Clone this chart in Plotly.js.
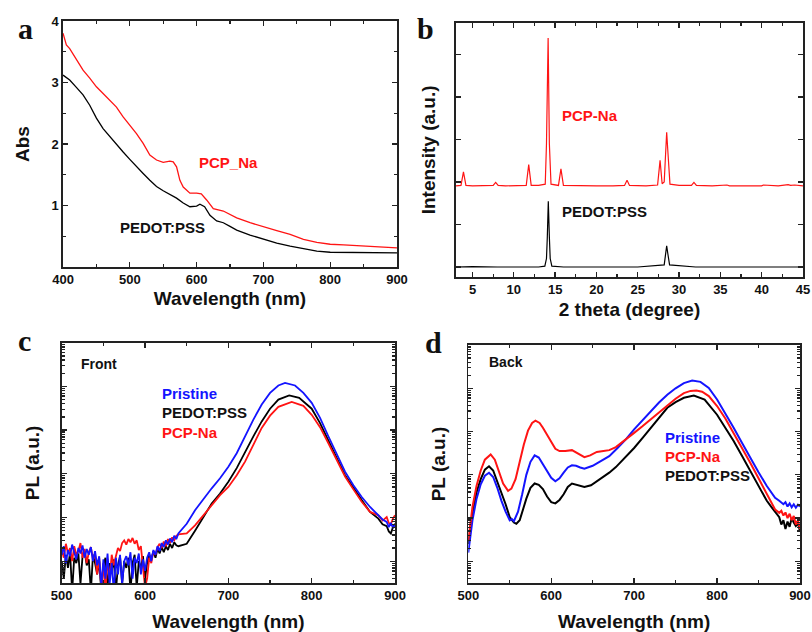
<!DOCTYPE html>
<html><head><meta charset="utf-8">
<script src="https://cdn.plot.ly/plotly-3.0.1.min.js"></script>
<style>html,body{margin:0;padding:0;background:#fff}#chart{width:812px;height:632px}</style>
</head><body><div id="chart"></div>
<script>
// ---- Panel a: absorbance ----
const absWlRed = [400,405,410,420,430,440,450,460,470,480,490,500,510,520,530,540,550,560,565,570,575,580,590,600,607,615,625,640,650,660,680,700,720,740,760,780,800,820,840,860,880,900];
const absRed   = [3.8,3.61,3.55,3.37,3.2,3.07,2.93,2.82,2.71,2.6,2.44,2.31,2.17,2.01,1.82,1.74,1.7,1.72,1.71,1.63,1.41,1.3,1.2,1.2,1.19,1.09,0.95,0.91,0.85,0.8,0.72,0.65,0.59,0.53,0.45,0.4,0.37,0.36,0.35,0.34,0.33,0.31];
const absWlBlack = [400,410,420,430,440,450,460,470,480,490,500,510,520,530,540,550,560,570,580,590,600,605,612,620,630,640,650,660,680,700,720,740,760,780,800,820,850,900];
const absBlack   = [3.12,3.04,2.92,2.8,2.63,2.42,2.25,2.12,2.0,1.87,1.75,1.63,1.52,1.41,1.31,1.24,1.18,1.12,1.04,0.98,0.99,1.02,0.98,0.84,0.75,0.72,0.66,0.6,0.52,0.45,0.39,0.34,0.3,0.26,0.24,0.24,0.23,0.23];

// ---- Panel b: XRD ----
const xrdAngRed = [3,3.6,3.9,4.2,5,6,7.5,7.8,8.1,9,10,11.5,11.8,12.1,13,13.8,13.95,14.15,14.3,14.5,15.4,15.7,16.0,18,20,22,23.4,23.7,24.0,26,27.4,27.7,27.95,28.2,28.35,28.5,28.65,28.9,30,31.5,31.8,32.1,34,35.8,36.1,38,40,40.2,42,43.2,43.5,44,45];
const xrdRed    = [1.91,1.92,2.24,1.92,1.91,1.91,1.92,1.99,1.92,1.91,1.91,1.92,2.41,1.92,1.92,1.95,2.9,5.39,2.9,1.95,1.92,2.31,1.92,1.91,1.91,1.91,1.92,2.04,1.92,1.91,1.93,2.51,1.96,2.0,2.7,3.17,2.7,1.95,1.92,1.92,1.99,1.92,1.91,1.93,1.91,1.91,1.91,1.93,1.91,1.94,1.92,1.93,1.91];
const xrdAngBlack = [3,5,8,10,13,13.75,13.95,14.05,14.17,14.3,14.4,14.6,16,20,25,28.2,28.35,28.5,28.65,28.85,32,40,45];
const xrdBlack    = [0,0.01,0,0,0,0.02,0.2,0.7,1.55,0.7,0.2,0.02,0,0,0,0.05,0.3,0.5,0.3,0.05,0,0,0];

// ---- Panel c: PL front ----
const frontNoiseWl = [500,502.5,505,507.5,510,512.5,515,517.5,520,522.5,525,527.5,530,532.5,535,537.5,540,542.5,545,547.5,550,552.5,555,557.5,560,562.5,565,567.5,570,572.5,575,577.5,580,582.5,585,587.5,590,592.5,595,597.5,600,602.5,605,607.5,610,612.5,615,617.5,620,622.5,625,627.5,630,632.5,635,637.5,640];
const frontBlueNoise  = [14,22,9,18,13,24,16,11,20,15,23,12,19,14,21,10,17,8,13,2.5,11,4,15,3,9,2,12,5,14,3,10,13,8,16,4,12,9,15,5,11,6,12,16,10,18,14,22,17,26,21,30,24,33,27,38,32,43];
const frontRedNoise   = [18,12,25,15,20,10,22,14,17,26,12,19,9,16,21,11,15,5,12,2.5,9,2,11,4,14,8,13,20,17,26,30,24,32,27,34,25,30,18,22,6,2.5,4,12,9,17,14,21,25,20,28,22,32,26,35,30,38,41];
const frontBlackNoise = [10,4,14,7,16,2,12,9,15,3,13,17,8,11,2,14,9,5,10,2,8,12,2.5,9,6,11,2,8,13,3,10,7,12,2,9,14,2.5,10,7,13,4,9,14,11,17,12,19,15,21,16,22,18,25,20,27,23,22];
const frontBlueWl  = [650,660,670,680,690,700,710,720,730,740,750,760,768,780,790,800,810,820,830,840,850,860,870,880,885,890,892.5,895,897.5,900];
const frontBlue    = [72,147,270,465,790,1450,2960,7200,17400,38600,71000,105000,120000,105000,71000,42000,19000,7200,2960,1120,550,295,174,112,90,79,60,75,58,69];
const frontBlackWl = [650,660,670,680,690,700,710,720,730,740,750,760,773,785,800,810,820,830,840,850,860,870,880,885,890,892.5,895,897.5,900];
const frontBlack   = [25,50,103,209,355,660,1350,3240,7200,15800,30900,50000,62000,55000,30900,14500,6000,2300,930,470,250,134,94,70,63,48,43,60,72];
const frontRedWl   = [650,660,670,680,690,700,710,720,730,740,750,760,776,790,800,810,820,830,840,850,860,870,880,885,890,892.5,895,897.5,900];
const frontRed     = [43,66,112,190,324,500,930,1900,4600,11200,21400,34000,44000,36000,22400,11700,5000,2100,870,440,229,134,112,85,102,75,70,95,112];

// ---- Panel d: PL back ----
const backBlueWl = [500,505,510,515,520,525,530,535,540,545,550,552.5,555,560,565,570,575,580,585,590,595,600,605,610,615,620,625,630,635,640,650,660,670,680,690,700,710,720,730,740,750,760,770,780,790,800,810,820,830,840,850,860,865,870,875,880,882.5,885,887.5,890,892.5,895,897.5,900];
const backBlue   = [16,89,282,603,955,1120,891,501,251,141,89,95,85,141,355,1000,2000,2820,2510,1740,1200,851,708,832,1120,1480,1660,1620,1480,1380,1620,2090,2690,4170,6610,11200,18200,29500,46800,70800,100000,132000,151000,141000,102000,55000,26300,12300,5500,2450,1150,550,398,295,251,209,234,186,219,178,209,174,204,186];
const backRedWl  = [500,505,510,515,520,527,532,537,542,548,552,557,562,567,572,577,581,586,590,595,600,605,610,617,625,632,640,647,655,663,670,678,685,692,700,710,720,730,740,750,760,768,775,782,790,800,810,820,830,840,850,860,865,870,875,877.5,880,882.5,885,887.5,890,892.5,895,897.5,900];
const backRed    = [30,178,562,1260,2240,2950,2240,1230,631,427,479,794,2000,5010,10500,15800,17800,15800,12300,8320,5500,3980,3550,3550,3720,3160,2570,2820,3390,3550,3720,4370,5500,7080,9330,13200,19100,28200,41700,57500,77600,87100,89100,83200,66100,38900,20000,9330,4170,1910,832,355,240,158,132,148,115,135,100,126,89,112,71,89,56];
const backBlackWl = [500,505,510,515,520,525,530,535,540,545,550,555,558,562,566,570,575,580,585,590,595,600,605,610,615,620,625,632,640,648,655,663,670,678,685,692,700,710,720,730,740,750,760,772,785,800,810,820,830,840,850,860,865,870,875,877.5,880,882.5,885,887.5,890,892.5,895,897.5,900];
const backBlack   = [25,126,398,794,1320,1580,1260,708,398,209,105,79,74,89,158,282,501,631,589,468,316,234,219,263,355,525,631,575,525,575,708,871,1120,1510,2090,2880,4170,7080,12300,21400,35500,47900,60300,67600,55000,24500,12600,6030,2750,1230,550,251,186,138,105,71,89,56,83,63,100,79,66,76,50];

const RED = '#ff1414', BLUE = '#1414ff', BLACK = '#000000';
const FONT = 'Liberation Sans, Arial, sans-serif';
const tickFont = {family: FONT, size: 13, color: '#111', weight: 'bold'};
const titleFont = {family: FONT, size: 19, color: '#111', weight: 'bold'};

function base(extra) {
  return Object.assign({
    showline: true, linecolor: '#222', linewidth: 1.6, mirror: 'ticks',
    ticks: 'inside', ticklen: 5, tickwidth: 1.3, tickcolor: '#222',
    showgrid: false, zeroline: false, tickfont: tickFont, fixedrange: true
  }, extra);
}

const traces = [
  {x: absWlRed, y: absRed, xaxis: 'x', yaxis: 'y', mode: 'lines', line: {color: RED, width: 1.3}},
  {x: absWlBlack, y: absBlack, xaxis: 'x', yaxis: 'y', mode: 'lines', line: {color: BLACK, width: 1.3}},
  {x: xrdAngRed, y: xrdRed, xaxis: 'x2', yaxis: 'y2', mode: 'lines', line: {color: RED, width: 1.2}},
  {x: xrdAngBlack, y: xrdBlack, xaxis: 'x2', yaxis: 'y2', mode: 'lines', line: {color: BLACK, width: 1.2}},
  {x: frontNoiseWl.concat(frontBlackWl), y: frontBlackNoise.concat(frontBlack), xaxis: 'x3', yaxis: 'y3', mode: 'lines', line: {color: BLACK, width: 1.8}},
  {x: frontNoiseWl.concat(frontRedWl), y: frontRedNoise.concat(frontRed), xaxis: 'x3', yaxis: 'y3', mode: 'lines', line: {color: RED, width: 1.8}},
  {x: frontNoiseWl.concat(frontBlueWl), y: frontBlueNoise.concat(frontBlue), xaxis: 'x3', yaxis: 'y3', mode: 'lines', line: {color: BLUE, width: 1.8}},
  {x: backBlackWl, y: backBlack, xaxis: 'x4', yaxis: 'y4', mode: 'lines', line: {color: BLACK, width: 2}},
  {x: backBlueWl, y: backBlue, xaxis: 'x4', yaxis: 'y4', mode: 'lines', line: {color: BLUE, width: 2}},
  {x: backRedWl, y: backRed, xaxis: 'x4', yaxis: 'y4', mode: 'lines', line: {color: RED, width: 2}}
];

function ann(text, px, py, opts) {
  return Object.assign({
    text: text, xref: 'paper', yref: 'paper', x: px / 812, y: 1 - py / 632,
    xanchor: 'left', yanchor: 'middle', showarrow: false,
    font: {family: FONT, size: 15, color: '#111', weight: 'bold'}
  }, opts || {});
}
const letterFont = {family: 'Liberation Serif, Times New Roman, serif', size: 30, color: '#111', weight: 'bold'};

const layout = {
  width: 812, height: 632, margin: {l: 0, r: 0, t: 0, b: 0},
  paper_bgcolor: '#fff', plot_bgcolor: '#fff', showlegend: false,
  xaxis: base({domain: [0.0776, 0.4889], anchor: 'y', range: [400, 900], dtick: 100,
    minor: {ticks: 'inside', dtick: 50, ticklen: 3, tickcolor: '#222'},
    title: {text: 'Wavelength (nm)', font: titleFont, standoff: 5}}),
  yaxis: base({domain: [0.5775, 0.9668], anchor: 'x', range: [0, 4], tickmode: 'array', tickvals: [1, 2, 3, 4],
    minor: {ticks: 'inside', dtick: 0.5, ticklen: 3, tickcolor: '#222'},
    title: {text: 'Abs', font: titleFont, standoff: 17}}),
  xaxis2: base({domain: [0.5616, 0.9889], anchor: 'y2', range: [3, 45], dtick: 5, tick0: 0,
    minor: {ticks: 'inside', dtick: 2.5, ticklen: 3, tickcolor: '#222'},
    title: {text: '2 theta (degree)', font: titleFont, standoff: 6}}),
  yaxis2: base({domain: [0.5617, 0.9641], anchor: 'x2', range: [-0.235, 5.75], dtick: 1, tick0: 0, showticklabels: false,
    title: {text: 'Intensity (a.u.)', font: titleFont, standoff: 14}}),
  xaxis3: base({domain: [0.076, 0.4865], anchor: 'y3', range: [500, 900], dtick: 100,
    minor: {ticks: 'inside', dtick: 50, ticklen: 3, tickcolor: '#222'},
    title: {text: 'Wavelength (nm)', font: titleFont, standoff: 17}}),
  yaxis3: base({domain: [0.0775, 0.4577], anchor: 'x3', type: 'log', range: [0.5, 6], dtick: 1, showticklabels: false,
    minor: {ticks: 'inside', dtick: 'D1', ticklen: 3, tickcolor: '#222'},
    title: {text: 'PL (a.u.)', font: titleFont, standoff: 15}}),
  xaxis4: base({domain: [0.5767, 0.9852], anchor: 'y4', range: [500, 900], dtick: 100,
    minor: {ticks: 'inside', dtick: 50, ticklen: 3, tickcolor: '#222'},
    title: {text: 'Wavelength (nm)', font: titleFont, standoff: 17}}),
  yaxis4: base({domain: [0.0775, 0.4541], anchor: 'x4', type: 'log', range: [0.5, 6], dtick: 1, showticklabels: false,
    minor: {ticks: 'inside', dtick: 'D1', ticklen: 3, tickcolor: '#222'},
    title: {text: 'PL (a.u.)', font: titleFont, standoff: 16}}),
  annotations: [
    ann('a', 25, 28, {xanchor: 'center', font: letterFont}),
    ann('b', 425, 28, {xanchor: 'center', font: letterFont}),
    ann('c', 24, 340, {xanchor: 'center', font: letterFont}),
    ann('d', 433, 342, {xanchor: 'center', font: letterFont}),
    ann('PCP_Na', 197, 162, {font: {family: FONT, size: 15, color: RED, weight: 'bold'}}),
    ann('PEDOT:PSS', 118, 227),
    ann('PCP-Na', 560, 116, {font: {family: FONT, size: 15, color: RED, weight: 'bold'}}),
    ann('PEDOT:PSS', 560, 211),
    ann('Front', 79, 364, {font: {family: FONT, size: 14, color: '#111', weight: 'bold'}}),
    ann('Pristine', 160, 393, {font: {family: FONT, size: 15, color: BLUE, weight: 'bold'}}),
    ann('PEDOT:PSS', 160, 412),
    ann('PCP-Na', 160, 432, {font: {family: FONT, size: 15, color: RED, weight: 'bold'}}),
    ann('Back', 487, 362, {font: {family: FONT, size: 14, color: '#111', weight: 'bold'}}),
    ann('Pristine', 663, 437, {font: {family: FONT, size: 15, color: BLUE, weight: 'bold'}}),
    ann('PCP-Na', 663, 456, {font: {family: FONT, size: 15, color: RED, weight: 'bold'}}),
    ann('PEDOT:PSS', 663, 475)
  ]
};

Plotly.newPlot('chart', traces, layout, {staticPlot: true, displayModeBar: false});
</script>
</body></html>
